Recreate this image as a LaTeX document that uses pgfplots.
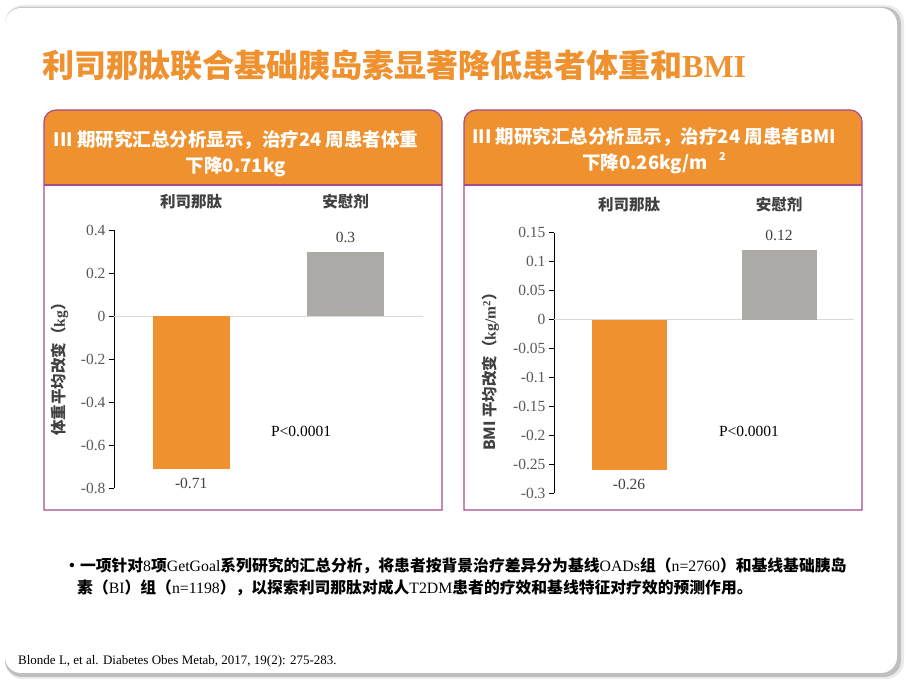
\documentclass[border=0pt]{standalone}
\usepackage{pgfplots}
\pgfplotsset{compat=1.18}
\usepackage{fontspec}
\setmainfont{Liberation Serif}
\newfontfamily\cjk{Noto Sans CJK SC}
\newfontfamily\tnr{Liberation Serif}
\definecolor{myorange}{HTML}{EE912E}
\definecolor{mygray}{HTML}{ABAAA6}
\definecolor{mypurple}{HTML}{A54B8E}
\definecolor{txtgray}{HTML}{404040}
\definecolor{tickgray}{HTML}{595959}
\pgfkeys{/pgf/number format/assume math mode=true}
\pgfplotsset{
  panel/.style={
    scale only axis,
    xmin=-0.5, xmax=1.5,
    axis y line=left, axis x line=top,
    axis line style={-},
    x axis line style={draw=none},
    xtick={0,1}, xticklabels={利司那肽,安慰剂},
    xtick style={draw=none},
    xticklabel style={font=\cjk\bfseries\fontsize{15.5}{16}\selectfont, text=txtgray, yshift=12pt},
    yticklabel style={font=\tnr\fontsize{15.5}{16}\selectfont, text=tickgray, /pgf/number format/fixed, /pgf/number format/precision=2},
    scaled y ticks=false,
    tick align=outside, major tick length=5pt,
    ytick style={black, line width=0.8pt},
    y axis line style={black, line width=0.8pt},
    clip=false,
    nodes near coords,
    nodes near coords style={font=\tnr\fontsize{15.5}{16}\selectfont, text=txtgray, /pgf/number format/fixed, /pgf/number format/precision=2, inner sep=9pt},
  }
}
\begin{document}
\begin{tikzpicture}[x=1pt,y=1pt]
\path[use as bounding box, fill=white] (0,0) rectangle (906,680);
% card shadow and card
\fill[black!8, rounded corners=18pt] (5,1) rectangle (904,675);
\fill[black!25, rounded corners=17pt] (5,3) rectangle (901,673);
\fill[white, rounded corners=16pt] (5,7) rectangle (897,672);
% title
\node[anchor=west, inner sep=0pt, text=myorange, font=\cjk\bfseries\fontsize{32}{32}\selectfont] at (42,615) {利司那肽联合基础胰岛素显著降低患者体重和{\tnr BMI}};
% left panel
\fill[white] (44,170) rectangle (442,570);
\fill[myorange] (44,495) -- (44,558) arc[start angle=180, end angle=90, radius=12] -- (430,570) arc[start angle=90, end angle=0, radius=12] -- (442,495) -- cycle;
\draw[mypurple, line width=1.2pt] (44,170) -- (44,558) arc[start angle=180, end angle=90, radius=12] -- (430,570) arc[start angle=90, end angle=0, radius=12] -- (442,170) -- cycle;
\draw[mypurple, line width=1.2pt] (44,495) -- (442,495);
\node[align=center, text=white, font=\cjk\bfseries\fontsize{18.5}{26}\selectfont] at (236,526) {III 期研究汇总分析显示，治疗24 周患者体重\\下降0.71kg};
% right panel
\fill[white] (464,170) rectangle (862,570);
\fill[myorange] (464,495) -- (464,558) arc[start angle=180, end angle=90, radius=12] -- (850,570) arc[start angle=90, end angle=0, radius=12] -- (862,495) -- cycle;
\draw[mypurple, line width=1.2pt] (464,170) -- (464,558) arc[start angle=180, end angle=90, radius=12] -- (850,570) arc[start angle=90, end angle=0, radius=12] -- (862,170) -- cycle;
\draw[mypurple, line width=1.2pt] (464,495) -- (862,495);
\node[align=center, text=white, font=\cjk\bfseries\fontsize{18.5}{26}\selectfont] at (654,529) {III 期研究汇总分析显示，治疗24 周患者BMI\\下降0.26kg/m\hspace{0.6em}\raisebox{0.5em}{\fontsize{11}{11}\selectfont 2}};

% left chart
\begin{axis}[panel,
  at={(114pt,191.7pt)}, anchor=south west,
  width=308.7pt, height=258.3pt,
  ymin=-0.8, ymax=0.4,
  ytick={-0.8,-0.6,-0.4,-0.2,0,0.2,0.4},
  ylabel={体重平均改变（{\tnr kg}）},
  every axis y label/.style={at={(axis description cs:-0.175,0.475)}, rotate=90, anchor=center, font=\cjk\bfseries\fontsize{15.5}{16}\selectfont, text=txtgray},
]
\addplot[forget plot, draw=black!15, line width=0.8pt, nodes near coords=] coordinates {(-0.5,0) (1.5,0)};
\addplot[ybar, bar width=0.5, bar shift=0pt, fill=myorange, draw=none] coordinates {(0,-0.71)};
\addplot[ybar, bar width=0.5, bar shift=0pt, fill=mygray, draw=none] coordinates {(1,0.3)};
\node[font=\tnr\fontsize{15.5}{16}\selectfont, text=black] at (axis cs:0.712,-0.537) {P<0.0001};
\end{axis}

% right chart
\begin{axis}[panel,
  at={(554pt,186.7pt)}, anchor=south west,
  width=300pt, height=260.6pt,
  ymin=-0.3, ymax=0.15,
  ytick={-0.3,-0.25,-0.2,-0.15,-0.1,-0.05,0,0.05,0.1,0.15},
  ylabel={BMI 平均改变（{\tnr kg/m\textsuperscript{2}}）},
  every axis y label/.style={at={(axis description cs:-0.211,0.481)}, rotate=90, anchor=center, font=\cjk\bfseries\fontsize{15.5}{16}\selectfont, text=txtgray},
]
\addplot[forget plot, draw=black!15, line width=0.8pt, nodes near coords=] coordinates {(-0.5,0) (1.5,0)};
\addplot[ybar, bar width=0.5, bar shift=0pt, fill=myorange, draw=none] coordinates {(0,-0.26)};
\addplot[ybar, bar width=0.5, bar shift=0pt, fill=mygray, draw=none] coordinates {(1,0.12)};
\node[font=\tnr\fontsize{15.5}{16}\selectfont, text=black] at (axis cs:0.80,-0.194) {P<0.0001};
\end{axis}

% footnote
\node[anchor=west, inner sep=0pt, font=\fontsize{15.8}{16}\selectfont] at (64,114) {{\cjk\bfseries ・一项针对}8{\cjk\bfseries 项}GetGoal{\cjk\bfseries 系列研究的汇总分析，将患者按背景治疗差异分为基线}OADs{\cjk\bfseries 组（}n=2760{\cjk\bfseries ）和基线基础胰岛}};
\node[anchor=west, inner sep=0pt, font=\fontsize{15.8}{16}\selectfont] at (77,92) {{\cjk\bfseries 素（}BI{\cjk\bfseries ）组（}n=1198{\cjk\bfseries ），以探索利司那肽对成人}T2DM{\cjk\bfseries 患者的疗效和基线特征对疗效的预测作用。}};
\node[anchor=west, inner sep=0pt, font=\tnr\fontsize{13}{14}\selectfont] at (18,19) {Blonde L, et al. Diabetes Obes Metab, 2017, 19(2): 275-283.};
\end{tikzpicture}
\end{document}
